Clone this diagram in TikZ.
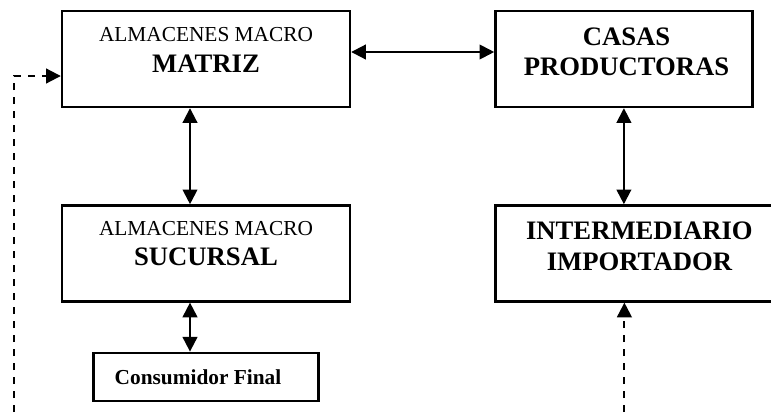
\documentclass[tikz,border=0pt]{standalone}
\usepackage{fontspec}
\setmainfont{Liberation Serif}
\usepackage{tikz}
\usetikzlibrary{arrows.meta, positioning}

\begin{document}
\begin{tikzpicture}[
    every node/.style={font=\fontsize{16}{23}\selectfont},
    box/.style={rectangle, draw, line width=1.8pt, minimum width=216pt, minimum height=72pt},
    smallbox/.style={rectangle, draw, line width=1.8pt, minimum width=168.75pt, minimum height=36pt},
    boxtext/.style={inner sep=0pt, align=center},
    big/.style={font=\fontsize{20}{23}\selectfont\bfseries},
    arrow/.style={{Triangle[length=11pt,width=11pt]}-{Triangle[length=11pt,width=11pt]}, line width=1.5pt},
    dasharrow/.style={-{Triangle[length=11pt,width=11pt]}, line width=1.5pt, dash pattern=on 5pt off 5.5pt}
]
\useasboundingbox (0,0) rectangle (578.25pt,-313.5pt);
\clip (0,0) rectangle (578.25pt,-313.5pt);

% boxes
\node[box] (matriz) at (154.5pt,-44.25pt) {};
\node[box, minimum width=192.75pt, right=107.25pt of matriz] (casas) {};
\node[box, below=72pt of matriz] (sucursal) {};
\node[box, below right=72pt and 0pt of casas.south west] (intermediario) {};
\node[smallbox, below=36.75pt of sucursal] (consumidor) {};

% texts
\node[boxtext, below=13pt of matriz.north] (matrizTxt) {ALMACENES MACRO\\{\fontsize{20}{23}\selectfont\bfseries MATRIZ}};
\node[boxtext, big, below=13pt of casas.north, xshift=2pt] (casasTxt) {CASAS\\PRODUCTORAS};
\node[boxtext, below=12.5pt of sucursal.north] (sucursalTxt) {ALMACENES MACRO\\{\fontsize{20}{23}\selectfont\bfseries SUCURSAL}};
\node[boxtext, big, below=13pt of intermediario.north] (intermediarioTxt) {INTERMEDIARIO\\IMPORTADOR};
\node[boxtext, font=\fontsize{16}{20}\selectfont\bfseries, xshift=-6pt] (consumidorTxt) at (consumidor) {Consumidor Final};

% free ends of the dashed lines
\coordinate (leftEnd) at (10.5pt,-330pt);
\coordinate (rightEnd) at ([xshift=-11.25pt]intermediario.south |- leftEnd);

% connectors
\draw[arrow] ([yshift=5.25pt]matriz.east) -- ([yshift=5.25pt]casas.west);
\draw[arrow] ([xshift=-12pt]matriz.south) -- ([xshift=-12pt]sucursal.north);
\draw[arrow] ([xshift=-12pt]sucursal.south) -- ([xshift=-12pt]sucursal.south |- consumidor.north);
\draw[arrow] (casas.south) -- (casas.south |- intermediario.north);
\draw[dasharrow] (leftEnd) |- ([yshift=-12.75pt]matriz.west);
\draw[dasharrow] (rightEnd) -- (rightEnd |- intermediario.south);

\end{tikzpicture}
\end{document}
